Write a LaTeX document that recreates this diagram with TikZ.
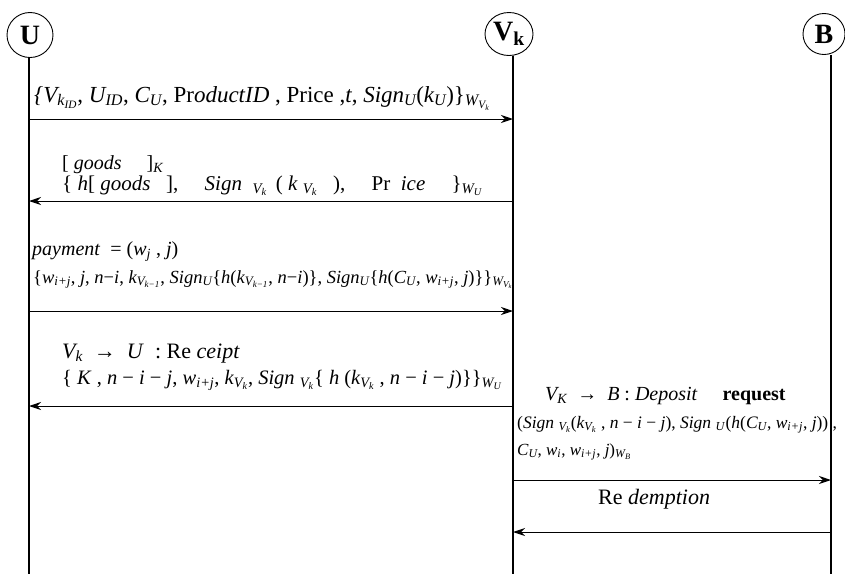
\documentclass[tikz,border=0pt]{standalone}
\usepackage{fontspec}
\setmainfont{Liberation Serif}
\usetikzlibrary{arrows.meta,shapes.geometric}
\newcommand\sbs[1]{\textsubscript{#1}}
\tikzset{
  actor/.style={draw, ellipse, line width=0.9pt, inner sep=0pt, font=\fontsize{28}{28}\selectfont\bfseries},
  life/.style={line width=1.3pt},
  msg/.style={line width=1pt, -{Stealth[length=12pt,width=8pt]}},
  lbl/.style={anchor=base west, inner sep=0pt, font=\fontsize{21}{21}\selectfont},
}
\begin{document}
\begin{tikzpicture}[x=1pt,y=-1pt]
\useasboundingbox (0,0) rectangle (845,574);
% actors
\node[actor, minimum width=46pt, minimum height=45pt] (U) at (30,35) {U};
\node[actor, minimum width=48pt, minimum height=43pt] (V) at (509,34) {V\sbs{k}};
\node[actor, minimum width=42pt, minimum height=41pt] (B) at (824,34) {B};
% lifelines
\coordinate (Ue) at (29,574);
\coordinate (Ve) at (513,574);
\coordinate (Be) at (831,574);
\draw[life] (U.south -| Ue) -- (Ue);
\draw[life] (V.south -| Ve) -- (Ve);
\draw[life] (B.south -| Be) -- (Be);
% message end points
\coordinate (u1) at (29,119);  \coordinate (v1) at (513,119);
\coordinate (u2) at (29,201);  \coordinate (v2) at (513,201);
\coordinate (u3) at (29,311);  \coordinate (v3) at (513,311);
\coordinate (u4) at (29,406);  \coordinate (v4) at (513,406);
\coordinate (v5) at (513,480); \coordinate (b5) at (831,480);
\coordinate (v6) at (513,532); \coordinate (b6) at (831,532);
\draw[msg] (u1) -- (v1);
\draw[msg] (v2) -- (u2);
\draw[msg] (u3) -- (v3);
\draw[msg] (v4) -- (u4);
\draw[msg] (v5) -- (b5);
\draw[msg] (b6) -- (v6);
% labels
\node[lbl, font=\fontsize{23}{23}\selectfont] (l1) at (34,102) {\textit{\{V\sbs{k\sbs{ID}}}, \textit{U\sbs{ID}}, \textit{C\sbs{U}}, Pr\textit{oductID} , Price ,\textit{t}, \textit{Sign\sbs{U}}(\textit{k\sbs{U}})\}\sbs{\textit{W\sbs{V\sbs{k}}}}};
\node[lbl, font=\fontsize{20}{20}\selectfont] (l2a) at (62,169) {[ \textit{goods} \quad ]\sbs{\textit{K}}};
\node[lbl, font=\fontsize{21}{21}\selectfont] (l2b) at (62,190) {\{ \textit{h}[ \textit{goods} \enspace ], \quad \textit{Sign} \ \sbs{\textit{V\sbs{k}}} \,( \textit{k} \sbs{\textit{V\sbs{k}}} \ \ ), \quad Pr \ \textit{ice} \quad \}\sbs{\textit{W\sbs{U}}}};
\node[lbl, font=\fontsize{20}{20}\selectfont] (l3a) at (32,255) {\textit{payment} \ = (\textit{w\sbs{j}} , \textit{j})};
\node[lbl, font=\fontsize{18.5}{18.5}\selectfont] (l3b) at (33,283) {\{\textit{w\sbs{i+j}}, \textit{j}, \textit{n}−\textit{i}, \textit{k\sbs{V\sbs{k−1}}}, \textit{Sign\sbs{U}}\{\textit{h}(\textit{k\sbs{V\sbs{k−1}}}, \textit{n}−\textit{i})\}, \textit{Sign\sbs{U}}\{\textit{h}(\textit{C\sbs{U}}, \textit{w\sbs{i+j}}, \textit{j})\}\}\sbs{\textit{W\sbs{V\sbs{k}}}}};
\node[lbl, font=\fontsize{22}{22}\selectfont] (l4a) at (62,358) {\textit{V\sbs{k}} \ → \ \textit{U} \ : Re \textit{ceipt}};
\node[lbl, font=\fontsize{20.5}{20.5}\selectfont] (l4b) at (62,384) {\{ \textit{K} , \textit{n} − \textit{i} − \textit{j}, \textit{w\sbs{i+j}}, \textit{k\sbs{V\sbs{k}}}, \textit{Sign} \sbs{\textit{V\sbs{k}}}\{ \textit{h} (\textit{k\sbs{V\sbs{k}}} , \textit{n} − \textit{i} − \textit{j})\}\}\sbs{\textit{W\sbs{U}}}};
\node[lbl, font=\fontsize{20}{20}\selectfont] (l5a) at (545,400) {\textit{V\sbs{K}} \ → \ \textit{B} : \textit{Deposit} \quad \textbf{request}};
\node[lbl, font=\fontsize{17.5}{17.5}\selectfont] (l5b) at (517,428) {(\textit{Sign} \sbs{\textit{V\sbs{k}}}(\textit{k\sbs{V\sbs{k}}} , \textit{n} − \textit{i} − \textit{j}), \textit{Sign} \sbs{\textit{U}}(\textit{h}(\textit{C\sbs{U}}, \textit{w\sbs{i+j}}, \textit{j})) ,};
\node[lbl, font=\fontsize{17}{17}\selectfont] (l5c) at (517,455) {\textit{C\sbs{U}}, \textit{w\sbs{i}}, \textit{w\sbs{i+j}}, \textit{j})\sbs{\textit{W\sbs{B}}}};
\node[lbl, font=\fontsize{22}{22}\selectfont] (l6) at (598,504) {Re \textit{demption}};
\end{tikzpicture}
\end{document}
